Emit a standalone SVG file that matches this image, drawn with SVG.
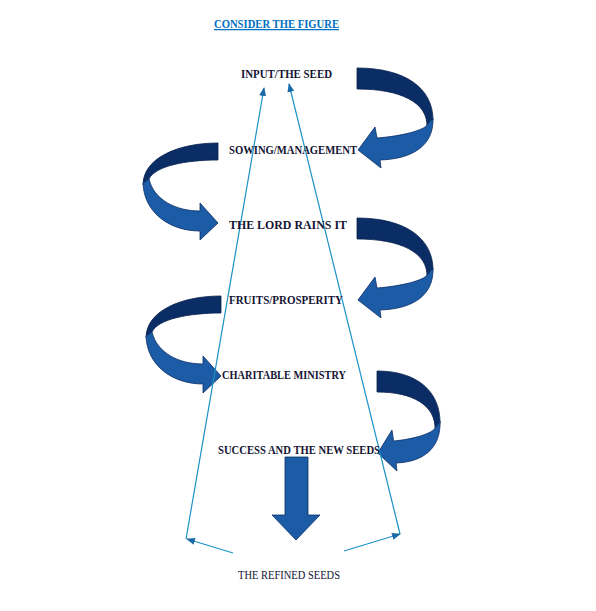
<svg xmlns="http://www.w3.org/2000/svg" width="596" height="611" viewBox="0 0 596 611">
<style>
.lbl{font-family:"Liberation Serif","Times New Roman",serif;font-weight:bold;font-size:12.5px;fill:#141433;}
.ttl{font-family:"Liberation Serif","Times New Roman",serif;font-weight:bold;font-size:12.5px;fill:#0070c0;text-decoration:underline;}
.ref{font-family:"Liberation Serif","Times New Roman",serif;font-size:12.5px;fill:#141433;}
.dk{fill:#0b2d66;stroke:#08214d;stroke-width:0.8;}
.lt{fill:#1c5ca6;stroke:#0b2d66;stroke-width:0.8;}
.ln{stroke:#1b92c6;stroke-width:1.2;fill:none;marker-end:url(#ah);}
</style>
<defs>
<marker id="ah" markerUnits="userSpaceOnUse" markerWidth="9" markerHeight="7" refX="8" refY="3.5" orient="auto">
<path d="M0,0 L9,3.5 L0,7 Z" fill="#1a6aa8"/>
</marker>
<g id="curveR">
<path class="dk" vector-effect="non-scaling-stroke" d="M357 68 C405 68 433 88 433 120 L427 127 C428 102 400 89 357 89 Z"/>
<path class="lt" vector-effect="non-scaling-stroke" d="M433 118 C434 146 412 159 380 160 L381 168 L358 150 L375 127 L377 138 C403 136 424 130 427 125 Z"/>
</g>
<g id="curveL">
<path class="dk" d="M218 143 C178 143 143 158 143 185 L149 179 C155 166 186 160 218 160 Z"/>
<path class="lt" d="M143 183 C144 213 170 231 200 231 L200 240 L218 223 L200 203 L200 211 C176 211 154 200 149 179 Z"/>
</g>
</defs>
<rect width="596" height="611" fill="#ffffff"/>

<g id="connectors">
<use href="#curveR"/>
<use href="#curveL"/>
<use href="#curveR" transform="translate(0,150)"/>
<use href="#curveL" transform="translate(3,153)"/>
<use href="#curveR" transform="translate(377,371) scale(0.83,1) translate(-357,-68)"/>
<path class="lt" d="M285 457 L308 457 L308 515 L320 515 L296 540 L272 515 L285 515 Z"/>
<line class="ln" x1="186" y1="539" x2="264" y2="88"/>
<line class="ln" x1="400" y1="534" x2="289" y2="84"/>
<line class="ln" x1="233" y1="553" x2="187" y2="539"/>
<line class="ln" x1="344" y1="551" x2="400" y2="534"/>
</g>

<g id="title"><text class="ttl" x="214" y="28" textLength="125" lengthAdjust="spacingAndGlyphs">CONSIDER THE FIGURE</text></g>
<g id="n-input"><text class="lbl" x="241" y="78" textLength="91" lengthAdjust="spacingAndGlyphs">INPUT/THE SEED</text></g>
<g id="n-sowing"><text class="lbl" x="229" y="154" textLength="128" lengthAdjust="spacingAndGlyphs">SOWING/MANAGEMENT</text></g>
<g id="n-lord"><text class="lbl" x="229" y="229" textLength="118" lengthAdjust="spacingAndGlyphs">THE LORD RAINS IT</text></g>
<g id="n-fruits"><text class="lbl" x="229" y="304" textLength="114" lengthAdjust="spacingAndGlyphs">FRUITS/PROSPERITY</text></g>
<g id="n-charitable"><text class="lbl" x="222" y="379" textLength="124" lengthAdjust="spacingAndGlyphs">CHARITABLE MINISTRY</text></g>
<g id="n-success"><text class="lbl" x="218" y="454" textLength="162" lengthAdjust="spacingAndGlyphs">SUCCESS AND THE NEW SEEDS</text></g>
<g id="n-refined"><text class="ref" x="238" y="579" textLength="102" lengthAdjust="spacingAndGlyphs">THE REFINED SEEDS</text></g>
</svg>
